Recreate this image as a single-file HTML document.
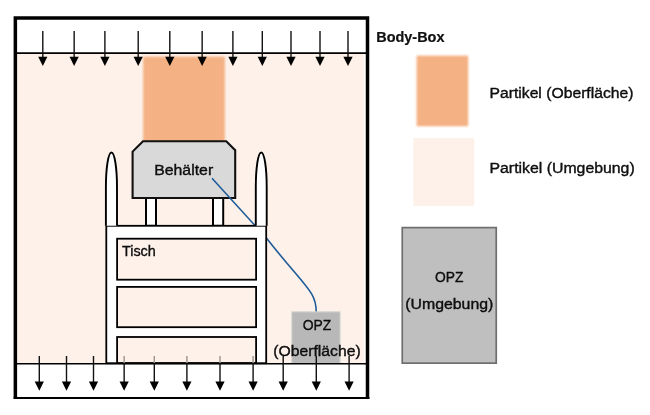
<!DOCTYPE html>
<html><head><meta charset="utf-8"><title>Body-Box</title>
<style>
html,body{margin:0;padding:0;background:#fff;}
svg{display:block}
text{font-family:"Liberation Sans",sans-serif;fill:#111;}
</style></head><body>
<svg width="650" height="415" viewBox="0 0 650 415">
<defs>
<filter id="b1" x="-10%" y="-10%" width="120%" height="120%"><feGaussianBlur stdDeviation="0.9"/></filter>
<filter id="b2" x="-10%" y="-10%" width="120%" height="120%"><feGaussianBlur stdDeviation="0.7"/></filter>
</defs>
<rect width="650" height="415" fill="#fff"/>
<!-- peach environment -->
<rect x="16" y="53" width="348" height="310.7" fill="#fdf1e9"/>
<!-- orange block -->
<rect x="143.2" y="56.6" width="81.6" height="87" fill="#f4b183" filter="url(#b1)"/>
<!-- outer box -->
<path d="M15.35 398.5V17.9H367.5V398.5" fill="none" stroke="#000" stroke-width="3.5"/>
<path d="M13.6 398H369.5" fill="none" stroke="#000" stroke-width="1.8"/>
<path d="M15 53.1H367" stroke="#000" stroke-width="1.8"/>
<!-- container legs -->
<rect x="146" y="198" width="10" height="27.8" fill="#fff" stroke="#000" stroke-width="2"/>
<rect x="213" y="198" width="10.2" height="27.8" fill="#fff" stroke="#000" stroke-width="2"/>
<!-- container -->
<path d="M132.6 198V151.6L143 141.2H226.3L235.2 150.3V198Z" fill="#d9d9d9" stroke="#111" stroke-width="2.1" stroke-linejoin="miter"/>
<!-- blue cable -->
<path d="M212 178.3L266.4 238C306.2 288.6 316.2 291.3 316.2 311.8" fill="none" stroke="#1f5c99" stroke-width="1.6"/>
<!-- table -->
<rect x="106.3" y="225.8" width="159.9" height="137.4" fill="#fff" stroke="#000" stroke-width="1.8"/>
<rect x="117.1" y="238.7" width="139" height="41" fill="#fdf1e9" stroke="#000" stroke-width="1.8"/>
<rect x="117.1" y="286.9" width="139" height="40.3" fill="#fdf1e9" stroke="#000" stroke-width="1.8"/>
<rect x="117.1" y="337" width="139" height="26" fill="#fdf1e9" stroke="#000" stroke-width="1.8"/>
<!-- pillars -->
<path d="M105.9 225.8V187C105.9 169 108.15 152.5 111.45 152.5C114.75 152.5 117.0 169 117.0 187V225.8" fill="#fff" stroke="#000" stroke-width="1.9"/>
<path d="M255.8 225.8V187C255.8 169 257.95 152.5 261.25 152.5C264.55 152.5 266.7 169 266.7 187V225.8" fill="#fff" stroke="#000" stroke-width="1.9"/>
<!-- OPZ surface -->
<rect x="292" y="312" width="47.9" height="51.4" fill="#b8b8b8" stroke="#c9c9c9" stroke-width="1.2"/>
<path d="M15 363.7H367" stroke="#000" stroke-width="1.4"/>
<path d="M42.8 31V57.7" stroke="#111" stroke-width="1.4" fill="none"/><path d="M38.199999999999996 56.7H47.4L42.8 66Z" fill="#000"/>
<path d="M74.15 31V57.7" stroke="#111" stroke-width="1.4" fill="none"/><path d="M69.55000000000001 56.7H78.75L74.15 66Z" fill="#000"/>
<path d="M104.9 31V57.7" stroke="#111" stroke-width="1.4" fill="none"/><path d="M100.30000000000001 56.7H109.5L104.9 66Z" fill="#000"/>
<path d="M138.2 31V57.7" stroke="#111" stroke-width="1.4" fill="none"/><path d="M133.6 56.7H142.79999999999998L138.2 66Z" fill="#000"/>
<path d="M169.8 31V57.7" stroke="#111" stroke-width="1.4" fill="none"/><path d="M165.20000000000002 56.7H174.4L169.8 66Z" fill="#000"/>
<path d="M202.15 31V57.7" stroke="#111" stroke-width="1.4" fill="none"/><path d="M197.55 56.7H206.75L202.15 66Z" fill="#000"/>
<path d="M232.9 31V57.7" stroke="#111" stroke-width="1.4" fill="none"/><path d="M228.3 56.7H237.5L232.9 66Z" fill="#000"/>
<path d="M262.3 31V57.7" stroke="#111" stroke-width="1.4" fill="none"/><path d="M257.7 56.7H266.90000000000003L262.3 66Z" fill="#000"/>
<path d="M291 31V57.7" stroke="#111" stroke-width="1.4" fill="none"/><path d="M286.4 56.7H295.6L291 66Z" fill="#000"/>
<path d="M320 31V57.7" stroke="#111" stroke-width="1.4" fill="none"/><path d="M315.4 56.7H324.6L320 66Z" fill="#000"/>
<path d="M348 31V57.7" stroke="#111" stroke-width="1.4" fill="none"/><path d="M343.4 56.7H352.6L348 66Z" fill="#000"/>
<path d="M39.3 356V382.5" stroke="#111" stroke-width="1.4" fill="none"/><path d="M34.699999999999996 381.5H43.9L39.3 390.8Z" fill="#000"/>
<path d="M66.5 356V382.5" stroke="#111" stroke-width="1.4" fill="none"/><path d="M61.9 381.5H71.1L66.5 390.8Z" fill="#000"/>
<path d="M93.5 356V382.5" stroke="#111" stroke-width="1.4" fill="none"/><path d="M88.9 381.5H98.1L93.5 390.8Z" fill="#000"/>
<path d="M124.15 356V363" stroke="#9a9490" stroke-width="1.4" fill="none"/><path d="M124.15 363V382.5" stroke="#111" stroke-width="1.4" fill="none"/><path d="M119.55000000000001 381.5H128.75L124.15 390.8Z" fill="#000"/>
<path d="M154.3 356V363" stroke="#9a9490" stroke-width="1.4" fill="none"/><path d="M154.3 363V382.5" stroke="#111" stroke-width="1.4" fill="none"/><path d="M149.70000000000002 381.5H158.9L154.3 390.8Z" fill="#000"/>
<path d="M186.9 356V363" stroke="#9a9490" stroke-width="1.4" fill="none"/><path d="M186.9 363V382.5" stroke="#111" stroke-width="1.4" fill="none"/><path d="M182.3 381.5H191.5L186.9 390.8Z" fill="#000"/>
<path d="M220 356V363" stroke="#9a9490" stroke-width="1.4" fill="none"/><path d="M220 363V382.5" stroke="#111" stroke-width="1.4" fill="none"/><path d="M215.4 381.5H224.6L220 390.8Z" fill="#000"/>
<path d="M253.1 356V363" stroke="#9a9490" stroke-width="1.4" fill="none"/><path d="M253.1 363V382.5" stroke="#111" stroke-width="1.4" fill="none"/><path d="M248.5 381.5H257.7L253.1 390.8Z" fill="#000"/>
<path d="M283.2 356V382.5" stroke="#111" stroke-width="1.4" fill="none"/><path d="M278.59999999999997 381.5H287.8L283.2 390.8Z" fill="#000"/>
<path d="M316.3 356V382.5" stroke="#111" stroke-width="1.4" fill="none"/><path d="M311.7 381.5H320.90000000000003L316.3 390.8Z" fill="#000"/>
<path d="M349.1 356V382.5" stroke="#111" stroke-width="1.4" fill="none"/><path d="M344.5 381.5H353.70000000000005L349.1 390.8Z" fill="#000"/>
<g opacity="0.999">
<text x="154.2" y="175.4" font-size="15.2" textLength="59" lengthAdjust="spacingAndGlyphs" stroke="#000" fill="#000" stroke-width="0.35">Behälter</text>
<text x="121.9" y="255.8" font-size="15.2" textLength="34" lengthAdjust="spacingAndGlyphs" stroke="#000" fill="#000" stroke-width="0.35">Tisch</text>
<text x="317" y="329.6" font-size="15.2" textLength="28.6" lengthAdjust="spacingAndGlyphs" text-anchor="middle" stroke="#000" fill="#000" stroke-width="0.35">OPZ</text>
<text x="317" y="356.1" font-size="15.2" textLength="87.4" lengthAdjust="spacingAndGlyphs" text-anchor="middle" stroke="#000" fill="#000" stroke-width="0.35">(Oberfläche)</text>
<text x="376.2" y="42.2" font-size="14.5" textLength="68.3" lengthAdjust="spacingAndGlyphs" font-weight="bold" stroke="#000" fill="#000" stroke-width="0.2">Body-Box</text>
<!-- legend -->
<rect x="416.6" y="55.6" width="51.6" height="70.6" fill="#f4b183" filter="url(#b1)"/>
<rect x="413.3" y="138" width="61" height="67.9" fill="#fdf1e9" filter="url(#b2)"/>
<text x="489.5" y="97.9" font-size="15.2" textLength="144" lengthAdjust="spacingAndGlyphs" stroke="#000" fill="#000" stroke-width="0.35">Partikel (Oberfläche)</text>
<text x="489.5" y="173.4" font-size="15.2" textLength="145.2" lengthAdjust="spacingAndGlyphs" stroke="#000" fill="#000" stroke-width="0.35">Partikel (Umgebung)</text>
<rect x="402.25" y="227.6" width="94" height="135.55" fill="#bfbfbf" stroke="#6e6e6e" stroke-width="1.7"/>
<text x="449.3" y="282.1" font-size="15.2" textLength="28.4" lengthAdjust="spacingAndGlyphs" text-anchor="middle" stroke="#000" fill="#000" stroke-width="0.35">OPZ</text>
<text x="449.3" y="309.1" font-size="15.2" textLength="88.2" lengthAdjust="spacingAndGlyphs" text-anchor="middle" stroke="#000" fill="#000" stroke-width="0.35">(Umgebung)</text>
</g>
</svg>
</body></html>
